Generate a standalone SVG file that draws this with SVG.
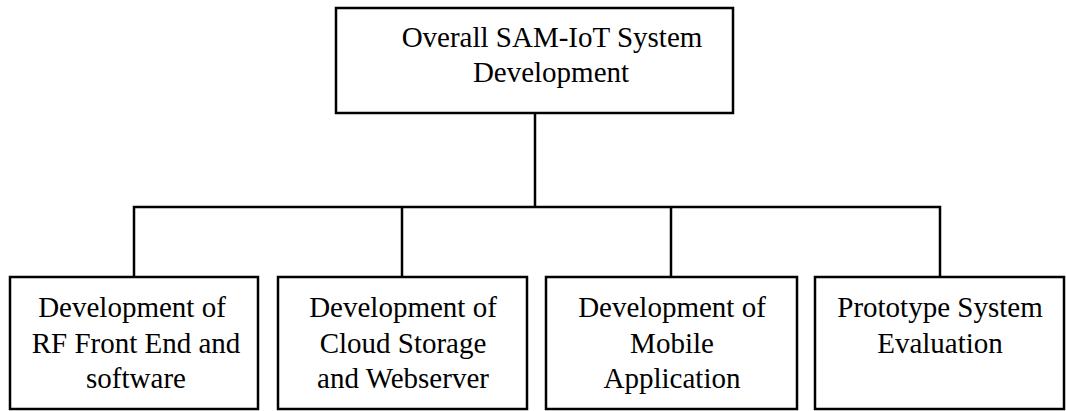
<svg xmlns="http://www.w3.org/2000/svg" width="1066" height="411" viewBox="0 0 1066 411">
<style>
.box{fill:#fff;stroke:#000;stroke-width:2.5}
.c{fill:none;stroke:#000;stroke-width:2.5}
</style>
<rect width="1066" height="411" fill="#fff"/>
<g id="connectors">
<line class="c" x1="535" y1="113" x2="535" y2="207"/>
<polyline class="c" points="134,277 134,207 940,207 940,277"/>
<line class="c" x1="402" y1="207" x2="402" y2="277"/>
<line class="c" x1="671" y1="207" x2="671" y2="277"/>
</g>
<g id="root">
<rect class="box" x="336" y="8" width="397" height="105"/>
<text x="552" y="47" font-family="Liberation Serif" font-size="29" text-anchor="middle">Overall SAM-IoT System</text>
<text x="551" y="82" font-family="Liberation Serif" font-size="29" text-anchor="middle">Development</text>
</g>
<g id="n1">
<rect class="box" x="10" y="277" width="248" height="132"/>
<text x="132" y="317" font-family="Liberation Serif" font-size="29" text-anchor="middle">Development of</text>
<text x="136" y="353" font-family="Liberation Serif" font-size="29" text-anchor="middle">RF Front End and</text>
<text x="136" y="388" font-family="Liberation Serif" font-size="29" text-anchor="middle">software</text>
</g>
<g id="n2">
<rect class="box" x="278" y="277" width="249" height="132"/>
<text x="403" y="317" font-family="Liberation Serif" font-size="29" text-anchor="middle">Development of</text>
<text x="403" y="353" font-family="Liberation Serif" font-size="29" text-anchor="middle">Cloud Storage</text>
<text x="403" y="388" font-family="Liberation Serif" font-size="29" text-anchor="middle">and Webserver</text>
</g>
<g id="n3">
<rect class="box" x="546" y="277" width="251" height="132"/>
<text x="672" y="317" font-family="Liberation Serif" font-size="29" text-anchor="middle">Development of</text>
<text x="672" y="353" font-family="Liberation Serif" font-size="29" text-anchor="middle">Mobile</text>
<text x="672" y="388" font-family="Liberation Serif" font-size="29" text-anchor="middle">Application</text>
</g>
<g id="n4">
<rect class="box" x="815" y="277" width="249" height="132"/>
<text x="940" y="317" font-family="Liberation Serif" font-size="29" text-anchor="middle">Prototype System</text>
<text x="940" y="353" font-family="Liberation Serif" font-size="29" text-anchor="middle">Evaluation</text>
</g>
</svg>
